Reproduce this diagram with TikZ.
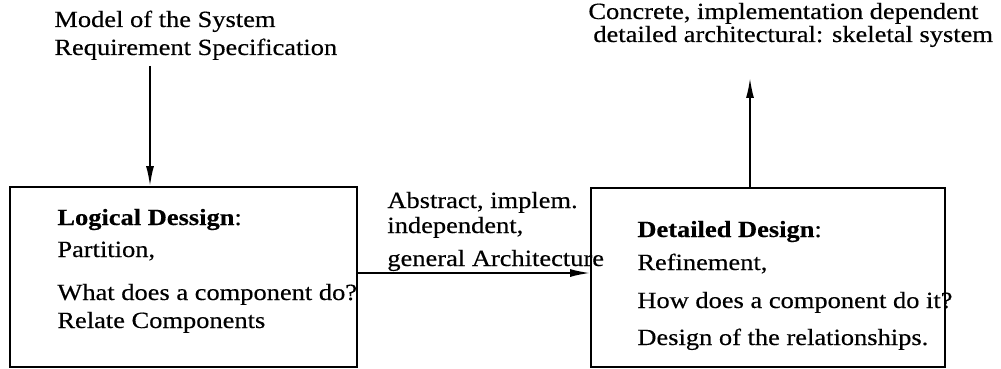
\documentclass[tikz,border=0pt]{standalone}
\usepackage{fontspec}
\setmainfont{Liberation Serif}[FakeStretch=1.14, FakeBold=0.4]
\usetikzlibrary{arrows.meta}

\begin{document}
\begin{tikzpicture}[x=0.5pt, y=-0.5pt,
  every node/.style={font=\fontsize{11.6}{13}\selectfont},
  txt/.style={anchor=base west, inner sep=0pt},
  designbox/.style={draw, line width=0.9pt, rectangle, inner sep=0pt},
  arr/.style={line width=0.9pt, -{Latex[length=10pt, width=4pt]}}]
  \useasboundingbox (0,0) rectangle (1001,369);

  % the two design stages
  \node[designbox, minimum width=173.5pt, minimum height=90pt] (lbox) at (183.5,277) {};
  \node[designbox, minimum width=177pt, minimum height=89.5pt] (rbox) at (768,277.5) {};

  % input of the logical design
  \node[txt] (model) at (54,27) {Model of the System};
  \node[txt] (req) at (54,55) {Requirement Specification};

  % output of the detailed design
  \node[txt] (concrete) at (588,19) {Concrete, implementation dependent};
  \node[txt] (skel) at (593,42) {detailed architectural: skeletal system};

  % label of the intermediate result
  \node[txt] (abs1) at (387,208) {Abstract, implem.};
  \node[txt] (abs2) at (387,233) {independent,};
  \node[txt] (abs3) at (387,266) {general Architecture};

  % logical design contents
  \node[txt] (l1) at (57,225) {\textbf{Logical Dessign}:};
  \node[txt] (l2) at (57,257) {Partition,};
  \node[txt] (l3) at (57,300) {What does a component do?};
  \node[txt] (l4) at (57,328) {Relate Components};

  % detailed design contents
  \node[txt] (d1) at (637,237) {\textbf{Detailed Design}:};
  \node[txt] (d2) at (637,270) {Refinement,};
  \node[txt] (d3) at (637,308) {How does a component do it?};
  \node[txt] (d4) at (637,345) {Design of the relationships.};

  % connectors
  \coordinate (inTop) at (150,66);
  \coordinate (outTip) at (750,78);
  \coordinate (mid) at (0,273);
  \draw[arr] (inTop) -- (inTop |- lbox.north);
  \draw[arr] (lbox.east |- mid) -- (rbox.west |- mid);
  \draw[arr] (outTip |- rbox.north) -- (outTip);
\end{tikzpicture}
\end{document}
